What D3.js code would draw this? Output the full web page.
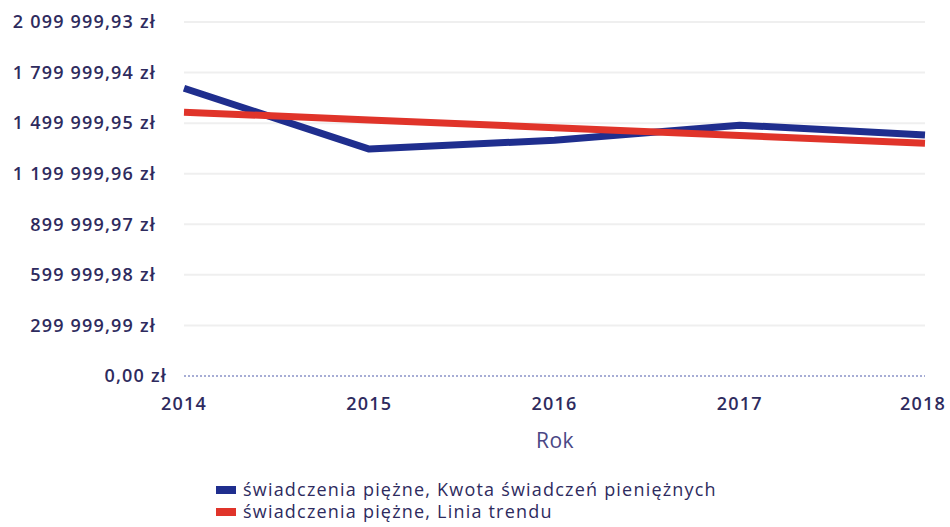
<!DOCTYPE html>
<html>
<head>
<meta charset="utf-8">
<script src="https://cdn.jsdelivr.net/npm/d3@7"></script>
<style>
  body { margin: 0; background: #fff; }
  svg { display: block; font-family: "Open Sans", "Noto Sans", sans-serif; }
  .tick-label { fill: #2e2b5e; font-size: 18px; font-weight: 600; letter-spacing: 1.2px; }
  .axis-title { fill: #4a4785; font-size: 21px; letter-spacing: 0.5px; }
  .legend-text { fill: #2e2b5e; font-size: 18px; letter-spacing: 1.2px; }
</style>
</head>
<body>
<div id="chart"></div>
<script>
// values
const years = [2014, 2015, 2016, 2017, 2018];
const kwota = [1707000, 1346000, 1399000, 1488000, 1429000];
const trend = [1565000, 1519000, 1473000, 1427000, 1381000];
const yTicks = [0, 299999.99, 599999.98, 899999.97, 1199999.96, 1499999.95, 1799999.94, 2099999.93];
const legendLabels = [
    "świadczenia piężne, Kwota świadczeń pieniężnych",
    "świadczenia piężne, Linia trendu"
];

const W = 950, H = 527;
const colors = ["#1f2e8e", "#e0342a"];

const pl = d3.formatLocale({ decimal: ",", thousands: " ", grouping: [3], currency: ["", " zł"] });
const fmt = pl.format("$,.2f");

const svg = d3.select("#chart").append("svg")
    .attr("width", W).attr("height", H);

const x = d3.scalePoint().domain(years).range([184, 925]);
const y = d3.scaleLinear().domain([0, 2099999.93]).range([376, 22]);

// gridlines
svg.append("g").selectAll("line")
    .data(yTicks.filter(d => d > 0))
    .join("line")
    .attr("x1", 184).attr("x2", 925)
    .attr("y1", d => y(d)).attr("y2", d => y(d))
    .attr("stroke", "#efefef").attr("stroke-width", 2);

// zero line, dotted
svg.append("line")
    .attr("x1", 184).attr("x2", 925)
    .attr("y1", y(0)).attr("y2", y(0))
    .attr("stroke", "#8a92c8").attr("stroke-width", 1.5)
    .attr("stroke-dasharray", "2,2");

// y labels
svg.append("g").selectAll("text")
    .data(yTicks)
    .join("text")
    .attr("class", "tick-label")
    .attr("x", d => d === 0 ? 167 : 156)
    .attr("y", d => y(d))
    .attr("dy", "0.35em")
    .attr("text-anchor", "end")
    .text(d => fmt(d));

// x labels
svg.append("g").selectAll("text")
    .data(years)
    .join("text")
    .attr("class", "tick-label")
    .attr("x", d => x(d))
    .attr("y", 404)
    .attr("dy", "0.35em")
    .attr("text-anchor", d => d === 2018 ? "end" : "middle")
    .attr("dx", d => d === 2018 ? 21 : 0)
    .text(d => d);

svg.append("text")
    .attr("class", "axis-title")
    .attr("x", 555).attr("y", 441)
    .attr("dy", "0.35em")
    .attr("text-anchor", "middle")
    .text("Rok");

// lines
const line = d3.line().x((d, i) => x(years[i])).y(d => y(d));
[kwota, trend].forEach((s, i) => {
    svg.append("path")
        .datum(s)
        .attr("fill", "none")
        .attr("stroke", colors[i])
        .attr("stroke-width", 7)
        .attr("stroke-linejoin", "round")
        .attr("d", line);
});

// legend
const lg = svg.append("g").attr("transform", "translate(216,490)");
legendLabels.forEach((t, i) => {
    const row = lg.append("g").attr("transform", `translate(0,${i * 22})`);
    row.append("rect")
        .attr("x", 0).attr("y", -4).attr("width", 20).attr("height", 8)
        .attr("fill", colors[i]);
    row.append("text")
        .attr("class", "legend-text")
        .attr("x", 27).attr("y", 0).attr("dy", "0.35em")
        .text(t);
});
</script>
</body>
</html>
